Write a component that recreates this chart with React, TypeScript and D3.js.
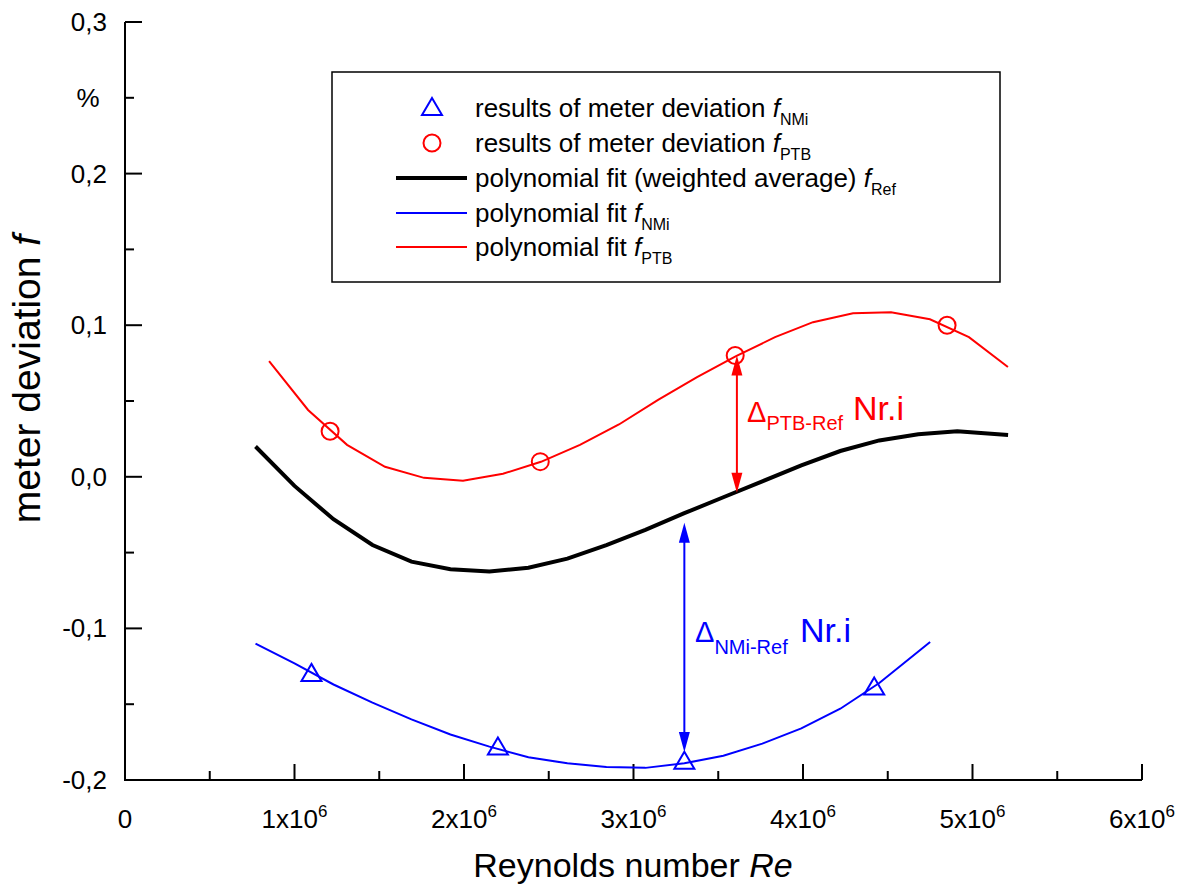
import React from "react";
import * as d3 from "d3";

// ---- data (Re in units of 1e6, deviation in %) ----
const ptbFitRe = [0.85, 1.08, 1.31, 1.534, 1.764, 1.994, 2.23, 2.454, 2.684, 2.914, 3.145, 3.375, 3.605, 3.835, 4.059, 4.295, 4.519, 4.749, 4.979, 5.209];
const ptbFitF = [0.0763, 0.0441, 0.0211, 0.0066, -0.0007, -0.0026, 0.002, 0.0099, 0.0211, 0.0345, 0.0507, 0.0658, 0.0796, 0.0921, 0.102, 0.1079, 0.1086, 0.1039, 0.0921, 0.0724];

const refFitRe = [0.77, 1.0, 1.23, 1.46, 1.69, 1.92, 2.15, 2.38, 2.61, 2.84, 3.07, 3.3, 3.53, 3.76, 3.99, 4.22, 4.45, 4.68, 4.91, 5.21];
const refFitF = [0.02, -0.006, -0.028, -0.045, -0.056, -0.061, -0.0625, -0.06, -0.054, -0.045, -0.035, -0.024, -0.0135, -0.003, 0.0075, 0.017, 0.024, 0.028, 0.03, 0.0276];

const nmiFitRe = [0.77, 1.0, 1.23, 1.46, 1.69, 1.92, 2.15, 2.38, 2.61, 2.84, 3.07, 3.3, 3.53, 3.76, 3.99, 4.22, 4.45, 4.75];
const nmiFitF = [-0.11, -0.123, -0.137, -0.149, -0.16, -0.17, -0.178, -0.185, -0.189, -0.1915, -0.192, -0.189, -0.184, -0.176, -0.166, -0.153, -0.136, -0.109];

const ptbRe = [1.21, 2.45, 3.6, 4.85];
const ptbF = [0.03, 0.01, 0.08, 0.1];
const nmiRe = [1.1, 2.2, 3.3, 4.42];
const nmiF = [-0.13, -0.1785, -0.188, -0.139];

const xMajorTicks = [0, 1, 2, 3, 4, 5, 6];
const xMinorTicks = [0.5, 1.5, 2.5, 3.5, 4.5, 5.5];
const yMajorTicks = [-0.2, -0.1, 0.0, 0.1, 0.2, 0.3];
const yMinorTicks = [-0.15, -0.05, 0.05, 0.15, 0.25];
const yTickLabels = ["-0,2", "-0,1", "0,0", "0,1", "0,2", "0,3"];

// annotation arrows: [Re, fTop, fBottom]
const ptbArrow = [3.61, 0.08, -0.0105];
const nmiArrow = [3.3, -0.0303, -0.1816];

const FONT = "'Liberation Sans', Arial, Helvetica, sans-serif";

export default function App() {
  const W = 1178, H = 887;
  const x = d3.scaleLinear().domain([0, 6]).range([125, 1142]);
  const y = d3.scaleLinear().domain([-0.2, 0.3]).range([780, 22]);

  const line = d3
    .line<[number, number]>()
    .x((d) => x(d[0]))
    .y((d) => y(d[1]));

  const zip = (a: number[], b: number[]) => a.map((v, i) => [v, b[i]] as [number, number]);

  const tri = (cx: number, cy: number) =>
    `M${cx},${cy - 10}L${cx + 10},${cy + 7}L${cx - 10},${cy + 7}Z`;

  const arrow = (a: number[], color: string) => {
    const ax = x(a[0]);
    const yt = y(a[1]);
    const yb = y(a[2]);
    const hl = 20, hw = 5.5;
    return (
      <g>
        <line x1={ax} x2={ax} y1={yt + hl - 2} y2={yb - hl + 2} stroke={color} strokeWidth={2} />
        <path d={`M${ax},${yt}L${ax + hw},${yt + hl}L${ax - hw},${yt + hl}Z`} fill={color} />
        <path d={`M${ax},${yb}L${ax + hw},${yb - hl}L${ax - hw},${yb - hl}Z`} fill={color} />
      </g>
    );
  };

  const legendRows = [108, 143, 178, 213, 247];
  const lx0 = 396, lx1 = 467, ltx = 475;

  return (
    <svg
      width={W}
      height={H}
      style={{ position: "absolute", left: 0, top: 0, background: "#fff" }}
      fontFamily={FONT}
    >
      <rect x={0} y={0} width={W} height={H} fill="#fff" />

      {/* axes */}
      <line x1={x(0)} x2={x(6)} y1={y(-0.2)} y2={y(-0.2)} stroke="#000" strokeWidth={2} />
      <line x1={x(0)} x2={x(0)} y1={y(-0.2) + 1} y2={y(0.3)} stroke="#000" strokeWidth={2} />
      {xMajorTicks.map((t) => (
        <line key={"xM" + t} x1={x(t)} x2={x(t)} y1={y(-0.2)} y2={y(-0.2) - 16} stroke="#000" strokeWidth={2} />
      ))}
      {xMinorTicks.map((t) => (
        <line key={"xm" + t} x1={x(t)} x2={x(t)} y1={y(-0.2)} y2={y(-0.2) - 9} stroke="#000" strokeWidth={2} />
      ))}
      {yMajorTicks.map((t) => (
        <line key={"yM" + t} x1={x(0)} x2={x(0) + 17} y1={y(t)} y2={y(t)} stroke="#000" strokeWidth={2} />
      ))}
      {yMinorTicks.map((t) => (
        <line key={"ym" + t} x1={x(0)} x2={x(0) + 9} y1={y(t)} y2={y(t)} stroke="#000" strokeWidth={2} />
      ))}

      {/* y tick labels */}
      {yMajorTicks.map((t, i) => (
        <text key={"yl" + t} x={x(0) - 18} y={y(t) + 9} fontSize={26} textAnchor="end" fill="#000">
          {yTickLabels[i]}
        </text>
      ))}
      <text x={88} y={y(0.25) + 9} fontSize={26} textAnchor="middle" fill="#000">%</text>

      {/* x tick labels */}
      {xMajorTicks.map((t) =>
        t === 0 ? (
          <text key={"xl" + t} x={x(t)} y={828} fontSize={26} textAnchor="middle" fill="#000">0</text>
        ) : (
          <text key={"xl" + t} x={x(t)} y={828} fontSize={26} textAnchor="middle" fill="#000">
            {`${t}x10`}
            <tspan fontSize={17} dy={-11}>6</tspan>
          </text>
        )
      )}

      {/* axis titles */}
      <text x={633} y={877} fontSize={34} textAnchor="middle" fill="#000">
        Reynolds number <tspan fontStyle="italic">Re</tspan>
      </text>
      <text
        transform={`translate(40,379) rotate(-90)`}
        fontSize={39}
        textAnchor="middle"
        fill="#000"
      >
        meter deviation <tspan fontStyle="italic">f</tspan>
      </text>

      {/* fit lines */}
      <path d={line(zip(ptbFitRe, ptbFitF)) || ""} fill="none" stroke="#ff0000" strokeWidth={2} />
      <path d={line(zip(nmiFitRe, nmiFitF)) || ""} fill="none" stroke="#0000ff" strokeWidth={2} />
      <path d={line(zip(refFitRe, refFitF)) || ""} fill="none" stroke="#000" strokeWidth={4} />

      {/* markers */}
      {ptbRe.map((r, i) => (
        <circle key={"pc" + i} cx={x(r)} cy={y(ptbF[i])} r={8.5} fill="none" stroke="#ff0000" strokeWidth={2} />
      ))}
      {nmiRe.map((r, i) => (
        <path key={"nt" + i} d={tri(x(r), y(nmiF[i]))} fill="none" stroke="#0000ff" strokeWidth={2} />
      ))}

      {/* arrows */}
      {arrow(ptbArrow, "#ff0000")}
      {arrow(nmiArrow, "#0000ff")}

      {/* annotations */}
      <text x={x(3.67)} y={y(0.0362)} fontSize={29} fill="#ff0000">
        Δ<tspan fontSize={20} dy={8}>PTB-Ref</tspan>
      </text>
      <text x={x(4.295)} y={y(0.0375)} fontSize={34} fill="#ff0000">Nr.i</text>
      <text x={x(3.363)} y={y(-0.1092)} fontSize={29} fill="#0000ff">
        Δ<tspan fontSize={20} dy={12}>NMi-Ref</tspan>
      </text>
      <text x={x(3.982)} y={y(-0.1092)} fontSize={34} fill="#0000ff">Nr.i</text>

      {/* legend */}
      <rect x={332} y={72} width={668} height={210} fill="#fff" stroke="#000" strokeWidth={1.5} />
      <path d={tri(432, legendRows[0])} fill="none" stroke="#0000ff" strokeWidth={2} />
      <circle cx={432} cy={legendRows[1]} r={8.5} fill="none" stroke="#ff0000" strokeWidth={2} />
      <line x1={lx0} x2={lx1} y1={legendRows[2]} y2={legendRows[2]} stroke="#000" strokeWidth={4} />
      <line x1={lx0} x2={lx1} y1={legendRows[3]} y2={legendRows[3]} stroke="#0000ff" strokeWidth={2} />
      <line x1={lx0} x2={lx1} y1={legendRows[4]} y2={legendRows[4]} stroke="#ff0000" strokeWidth={2} />
      <text x={ltx} y={legendRows[0] + 9} fontSize={26} fill="#000">
        results of meter deviation <tspan fontStyle="italic">f</tspan>
        <tspan fontSize={16} dy={8}>NMi</tspan>
      </text>
      <text x={ltx} y={legendRows[1] + 9} fontSize={26} fill="#000">
        results of meter deviation <tspan fontStyle="italic">f</tspan>
        <tspan fontSize={16} dy={8}>PTB</tspan>
      </text>
      <text x={ltx} y={legendRows[2] + 9} fontSize={26} fill="#000">
        polynomial fit (weighted average) <tspan fontStyle="italic">f</tspan>
        <tspan fontSize={16} dy={8}>Ref</tspan>
      </text>
      <text x={ltx} y={legendRows[3] + 9} fontSize={26} fill="#000">
        polynomial fit <tspan fontStyle="italic">f</tspan>
        <tspan fontSize={16} dy={8}>NMi</tspan>
      </text>
      <text x={ltx} y={legendRows[4] + 9} fontSize={26} fill="#000">
        polynomial fit <tspan fontStyle="italic">f</tspan>
        <tspan fontSize={16} dy={8}>PTB</tspan>
      </text>
    </svg>
  );
}
